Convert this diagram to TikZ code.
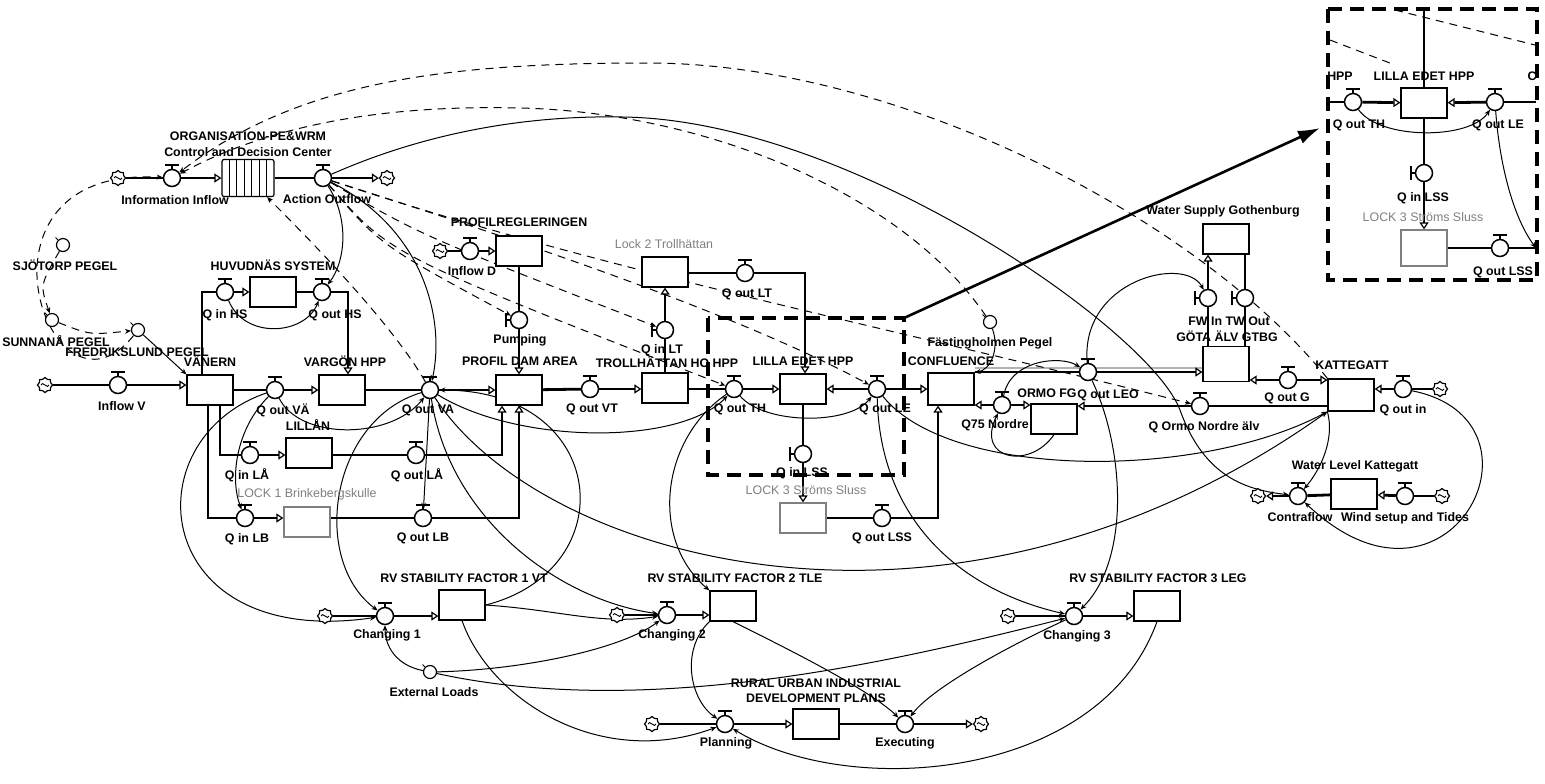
\documentclass[tikz,border=0pt]{standalone}
\usepackage{fontspec}
\setmainfont{Liberation Sans}
\usetikzlibrary{arrows.meta,shapes.symbols,backgrounds}
\begin{document}
\begin{tikzpicture}[x=0.5pt,y=-0.5pt,
  every node/.style={font=\fontsize{6.2pt}{6.5pt}\selectfont\bfseries},
  stock/.style={draw,line width=0.6pt,fill=white,minimum width=23pt,minimum height=15pt,inner sep=0pt},
  lock/.style={stock,draw=gray},
  valve/.style={circle,draw,line width=0.75pt,fill=white,minimum size=8.5pt,inner sep=0pt},
  aux/.style={circle,draw,line width=0.6pt,fill=white,minimum size=6.5pt,inner sep=0pt},
  src/.style={cloud,cloud puffs=8,draw,line width=0.6pt,fill=white,minimum width=7.5pt,minimum height=7.5pt,inner sep=0pt,
    path picture={\draw[line width=0.45pt] ([xshift=-2pt]path picture bounding box.center) .. controls +(0.5pt,2.5pt) and +(-0.5pt,-2.5pt) .. ([xshift=2pt]path picture bounding box.center);}},
  lbl/.style={inner sep=0.5pt},
  glbl/.style={lbl,text=gray,font=\fontsize{6.2pt}{6.5pt}\selectfont},
  pipe/.style={line width=1.4pt},
  flow/.style={pipe,-{Triangle[open,length=3.5pt,width=4.5pt,line width=0.6pt]}},
  link/.style={line width=0.5pt,-{Stealth[length=3pt,width=2.5pt]}},
  dlink/.style={link,dash pattern=on 4pt off 3pt},
  region/.style={line width=1.6pt,dash pattern=on 7pt off 4pt}]
\useasboundingbox (0,0) rectangle (1545,783);

% sources and sinks
\node[src] (cInfo) at (118,178) {};
\node[src] (cAct) at (387,178) {};
\node[src] (cInV) at (45,385) {};
\node[src] (cInD) at (440,251) {};
\node[src] (cIn) at (1440,389) {};
\node[src] (cCon) at (1258,496) {};
\node[src] (cWind) at (1442,496) {};
\node[src] (cCh1) at (325,616) {};
\node[src] (cCh2) at (617,615) {};
\node[src] (cCh3) at (1008,616) {};
\node[src] (cPlan) at (652,724) {};
\node[src] (cExec) at (981,724) {};

% stocks
\node[stock,minimum width=26pt,minimum height=18.5pt,rounded corners=1pt,
  path picture={\foreach \i in {1,...,6}
    \draw[line width=0.5pt] ([xshift=\i*3.7pt]path picture bounding box.south west) -- ([xshift=\i*3.7pt]path picture bounding box.north west);}] (sOrg) at (248,178) {};
\node[stock] (sVan) at (210,390) {};
\node[stock] (sVar) at (342,390) {};
\node[stock] (sProf) at (519,390) {};
\node[stock] (sTro) at (665,388) {};
\node[stock] (sLil) at (803,389) {};
\node[stock,minimum height=16pt] (sConf) at (951,389) {};
\node[stock] (sHuv) at (273,292) {};
\node[stock] (sLaa) at (309,453) {};
\node[lock] (sLock1) at (307,522) {};
\node[stock] (sPreg) at (519,251) {};
\node[stock] (sLock2) at (665,272) {};
\node[lock] (sLock3) at (803,518) {};
\node[stock] (sOrmo) at (1054,419) {};
\node[stock,minimum height=17.5pt] (sGota) at (1226,364) {};
\node[stock] (sWat) at (1226,239) {};
\node[stock,minimum height=16pt] (sKat) at (1351,395) {};
\node[stock] (sWL) at (1354,494) {};
\node[stock] (sRv1) at (462,605) {};
\node[stock] (sRv2) at (733,606) {};
\node[stock] (sRv3) at (1157,606) {};
\node[stock] (sRur) at (816,724) {};
\node[stock] (iLil) at (1424,103) {};
\node[lock,minimum height=18pt] (iLock3) at (1424,248) {};

% valves
\node[valve] (vInfo) at (172,178) {};
\node[valve] (vAct) at (323,178) {};
\node[valve] (vInV) at (118,385) {};
\node[valve] (vOutVAE) at (275,390) {};
\node[valve] (vOutVA) at (430,390) {};
\node[valve] (vOutVT) at (590,389) {};
\node[valve] (vOutTH) at (734,389) {};
\node[valve] (vOutLE) at (877,389) {};
\node[valve] (vInHS) at (225,292) {};
\node[valve] (vOutHS) at (322,292) {};
\node[valve] (vInLAA) at (250,455) {};
\node[valve] (vOutLAA) at (416,455) {};
\node[valve] (vInLB) at (245,518) {};
\node[valve] (vOutLB) at (423,518) {};
\node[valve] (vInD) at (470,251) {};
\node[valve] (vPump) at (519,320) {};
\node[valve] (vOutLT) at (745,273) {};
\node[valve] (vInLT) at (665,330) {};
\node[valve] (vInLSS) at (803,454) {};
\node[valve] (vOutLSS) at (882,518) {};
\node[valve] (vOutLEO) at (1088,372) {};
\node[valve] (vQ75) at (1002,405) {};
\node[valve] (vOrmo) at (1200,406) {};
\node[valve] (vOutG) at (1288,380) {};
\node[valve] (vOutIn) at (1403,389) {};
\node[valve] (vFW) at (1208,298) {};
\node[valve] (vTW) at (1245,298) {};
\node[valve] (vContra) at (1298,496) {};
\node[valve] (vWind) at (1405,496) {};
\node[valve] (vCh1) at (385,616) {};
\node[valve] (vCh2) at (667,615) {};
\node[valve] (vCh3) at (1074,616) {};
\node[valve] (vPlan) at (725,724) {};
\node[valve] (vExec) at (905,724) {};
\node[valve] (iOutTH) at (1353,102) {};
\node[valve] (iOutLE) at (1495,102) {};
\node[valve] (iInLSS) at (1424,173) {};
\node[valve] (iOutLSS) at (1500,248) {};

% auxiliaries
\node[aux] (aSjo) at (63,245) {};
\node[aux] (aSun) at (52,320) {};
\node[aux] (aFred) at (138,330) {};
\node[aux] (aFast) at (990,322) {};
\node[aux] (aExt) at (430,672) {};

\coordinate (boxNE) at (904,318);
\coordinate (insetW) at (1320,128);
\coordinate (iW) at (1329,102);
\coordinate (iE) at (1536,102);
\coordinate (iSE) at (1536,248);
\coordinate (iTop) at (1424,10);

\foreach \v in {vInfo,vAct,vInV,vOutVAE,vOutVA,vOutVT,vOutTH,vOutLE,vInHS,vOutHS,vInLAA,vOutLAA,
  vInLB,vOutLB,vInD,vOutLT,vOutLSS,vOutLEO,vQ75,vOrmo,vOutG,vOutIn,vContra,vWind,
  vCh1,vCh2,vCh3,vPlan,vExec,iOutTH,iOutLE,iOutLSS}
  \draw[line width=0.8pt] (\v.north) -- ++(0pt,2pt) ++(-3.5pt,0pt) -- ++(7pt,0pt);
\foreach \v in {vPump,vInLT,vInLSS,vFW,vTW,iInLSS}
  \draw[line width=0.8pt] (\v.west) -- ++(-2pt,0pt) ++(0pt,-3.5pt) -- ++(0pt,7pt);
\foreach \a in {aSjo,aSun,aFred,aFast,aExt}
  \draw[line width=0.5pt] (\a.north west) -- ++(-1.2pt,1.2pt);

% labels
\node[lbl] (tOrg1) at (248,136) {ORGANISATION-PE\&WRM};
\node[lbl] (tOrg2) at (248,152) {Control and Decision Center};
\node[lbl] (tInfo) at (175,200) {Information Inflow};
\node[lbl] (tAct) at (327,199) {Action Outflow};
\node[lbl] (tSjo) at (65,265) {SJÖTORP PEGEL};
\node[lbl] (tSun) at (56,341) {SUNNANÅ PEGEL};
\node[lbl] (tFred) at (137,352) {FREDRIKSLUND PEGEL};
\node[lbl] (tHuv) at (273,265) {HUVUDNÄS SYSTEM};
\node[lbl] (tInHS) at (225,315) {Q in HS};
\node[lbl] (tOutHS) at (335,315) {Q out HS};
\node[lbl] (tVan) at (210,361) {VÄNERN};
\node[lbl] (tInV) at (122,406) {Inflow V};
\node[lbl] (tOutVAE) at (283,410) {Q out VÄ};
\node[lbl] (tVar) at (345,361) {VARGÖN HPP};
\node[lbl] (tOutVA) at (428,410) {Q out VA};
\node[lbl] (tPreg) at (519,222) {PROFILREGLERINGEN};
\node[lbl] (tInD) at (472,271) {Inflow D};
\node[lbl] (tPump) at (520,340) {Pumping};
\node[lbl] (tProf) at (520,361) {PROFIL DAM AREA};
\node[lbl] (tOutVT) at (592,409) {Q out VT};
\node[glbl] (tLock2) at (664,244) {Lock 2 Trollhättan};
\node[lbl] (tOutLT) at (747,294) {Q out LT};
\node[lbl] (tInLT) at (662,350) {Q in LT};
\node[lbl] (tTro) at (667,362) {TROLLHÄTTAN HO HPP};
\node[lbl] (tLil) at (803,361) {LILLA EDET HPP};
\node[lbl] (tOutTH) at (740,409) {Q out TH};
\node[lbl] (tOutLE) at (885,409) {Q out LE};
\node[lbl] (tConf) at (951,361) {CONFLUENCE};
\node[lbl] (tFast) at (990,343) {Fästingholmen Pegel};
\node[lbl] (tOrmo) at (1047,393) {ORMO FG};
\node[lbl] (tOutLEO) at (1108,395) {Q out LEO};
\node[lbl] (tQ75) at (995,425) {Q75 Nordre};
\node[lbl] (tOrmoN) at (1204,427) {Q Ormo Nordre älv};
\node[lbl] (tInLSS) at (802,473) {Q in LSS};
\node[glbl] (tLock3) at (806,490) {LOCK 3 Ströms Sluss};
\node[lbl] (tOutLSS) at (882,538) {Q out LSS};
\node[lbl] (tLaa) at (308,425) {LILLÅN};
\node[lbl] (tInLAA) at (247,475) {Q in LÅ};
\node[lbl] (tOutLAA) at (417,475) {Q out LÅ};
\node[glbl] (tLock1) at (307,494) {LOCK 1 Brinkebergskulle};
\node[lbl] (tInLB) at (247,539) {Q in LB};
\node[lbl] (tOutLB) at (423,538) {Q out LB};
\node[lbl] (tWat) at (1223,211) {Water Supply Gothenburg};
\node[lbl] (tFWTW) at (1229,321) {FW In TW Out};
\node[lbl] (tGota) at (1227,336) {GÖTA ÄLV GTBG};
\node[lbl] (tKat) at (1352,365) {KATTEGATT};
\node[lbl] (tOutG) at (1287,398) {Q out G};
\node[lbl] (tOutIn) at (1403,410) {Q out in};
\node[lbl] (tWL) at (1355,466) {Water Level Kattegatt};
\node[lbl] (tCon) at (1300,517) {Contraflow};
\node[lbl] (tWind) at (1405,518) {Wind setup and Tides};
\node[lbl] (tRv1) at (464,578) {RV STABILITY FACTOR 1 VT};
\node[lbl] (tCh1) at (387,635) {Changing 1};
\node[lbl] (tExt) at (434,692) {External Loads};
\node[lbl] (tRv2) at (735,578) {RV STABILITY FACTOR 2 TLE};
\node[lbl] (tCh2) at (672,635) {Changing 2};
\node[lbl] (tRv3) at (1158,578) {RV STABILITY FACTOR 3 LEG};
\node[lbl] (tCh3) at (1077,636) {Changing 3};
\node[lbl] (tRur1) at (816,683) {RURAL URBAN INDUSTRIAL};
\node[lbl] (tRur2) at (816,698) {DEVELOPMENT PLANS};
\node[lbl] (tPlan) at (726,743) {Planning};
\node[lbl] (tExec) at (905,743) {Executing};
\node[lbl] (tiHPP) at (1340,76) {HPP};
\node[lbl] (tiLil) at (1424,76) {LILLA EDET HPP};
\node[lbl] (tiC) at (1532,76) {C};
\node[lbl] (tiOutTH) at (1359,125) {Q out TH};
\node[lbl] (tiOutLE) at (1498,125) {Q out LE};
\node[lbl] (tiInLSS) at (1423,198) {Q in LSS};
\node[glbl] (tiLock3) at (1423,217) {LOCK 3 Ströms Sluss};
\node[lbl] (tiOutLSS) at (1503,272) {Q out LSS};

\begin{scope}[on background layer]
\fill[white] (0,0) rectangle (1545,783);
% pipes
\draw[pipe] (cInfo) -- (vInfo);
\draw[flow] (vInfo) -- (sOrg);
\draw[pipe] (sOrg) -- (vAct);
\draw[flow] (vAct) -- (cAct);
\draw[pipe] (cInV) -- (vInV);
\draw[flow] (vInV) -- (sVan.west |- vInV);
\draw[pipe] (sVan) -- (vOutVAE);
\draw[flow] (vOutVAE) -- (sVar);
\draw[pipe] (sVar) -- (vOutVA);
\draw[flow] (vOutVA) -- (sProf);
\draw[pipe] (sProf) -- (vOutVT);
\draw[flow] (vOutVT) -- (sTro.west |- vOutVT);
\draw[pipe] (sTro.east |- vOutTH) -- (vOutTH);
\draw[flow] (vOutTH) -- (sLil);
\draw[flow] (vOutLE) -- (sLil);
\draw[flow] (vOutLE) -- (sConf);
\draw[pipe] ([xshift=-4pt]sVan.north) |- (vInHS);
\draw[flow] (vInHS) -- (sHuv);
\draw[pipe] (sHuv) -- (vOutHS);
\draw[flow] (vOutHS) -| ([xshift=3pt]sVar.north);
\draw[pipe] ([xshift=5pt]sVan.south) |- (vInLAA);
\draw[flow] (vInLAA) -- (sLaa.west |- vInLAA);
\draw[pipe] (sLaa.east |- vOutLAA) -- (vOutLAA);
\draw[flow] (vOutLAA) -| ([xshift=-8.5pt]sProf.south);
\draw[pipe] ([xshift=-1pt]sVan.south) |- (vInLB);
\draw[flow] (vInLB) -- (sLock1.west |- vInLB);
\draw[pipe] (sLock1.east |- vOutLB) -- (vOutLB);
\draw[flow] (vOutLB) -| (sProf.south);
\draw[pipe] (cInD) -- (vInD);
\draw[flow] (vInD) -- (sPreg);
\draw[pipe] (sPreg) -- (vPump);
\draw[flow] (vPump) -- (sProf);
\draw[pipe] (sTro) -- (vInLT);
\draw[flow] (vInLT) -- (sLock2);
\draw[pipe] (sLock2.east |- vOutLT) -- (vOutLT);
\draw[flow] (vOutLT) -| ([xshift=1pt]sLil.north);
\draw[pipe] (sLil) -- (vInLSS);
\draw[flow] (vInLSS) -- (sLock3);
\draw[pipe] (sLock3) -- (vOutLSS);
\draw[flow] (vOutLSS) -| ([xshift=-6.5pt]sConf.south);
\draw[gray!60,line width=1pt] ([yshift=2pt]sConf.east |- vOutLEO) -- ([yshift=2pt]sGota.west |- vOutLEO);
\draw[pipe] (sConf.east |- vOutLEO) -- (vOutLEO);
\draw[flow] (vOutLEO) -- (sGota.west |- vOutLEO);
\draw[flow] (vQ75) -- (sConf.east |- vQ75);
\draw[flow] (vQ75) -- (sOrmo.west |- vQ75);
\draw[pipe] (sKat.west |- vOrmo) -- (vOrmo);
\draw[flow] (vOrmo) -- (sOrmo.east |- vOrmo);
\draw[flow] (vOutG) -- (sGota.east |- vOutG);
\draw[flow] (vOutG) -- (sKat.west |- vOutG);
\draw[pipe] (cIn) -- (vOutIn);
\draw[flow] (vOutIn) -- (sKat.east |- vOutIn);
\draw[pipe] (sGota.north -| vFW) -- (vFW);
\draw[flow] (vFW) -- (sWat.south -| vFW);
\draw[pipe] (sWat.south -| vTW) -- (vTW) -- (sGota.north -| vTW);
\draw[pipe] (sWL) -- (vContra);
\draw[flow] (vContra) -- (cCon);
\draw[pipe] (cWind) -- (vWind);
\draw[flow] (vWind) -- (sWL);
\foreach \c/\v/\s in {cCh1/vCh1/sRv1,cCh2/vCh2/sRv2,cCh3/vCh3/sRv3,cPlan/vPlan/sRur}{
  \draw[pipe] (\c) -- (\v);
  \draw[flow] (\v) -- (\s.west |- \v);}
\draw[pipe] (sRur) -- (vExec);
\draw[flow] (vExec) -- (cExec);
\draw[pipe] (iW) -- (iOutTH);
\draw[flow] (iOutTH) -- (iLil);
\draw[flow] (iOutLE) -- (iLil);
\draw[pipe] (iOutLE) -- (iE);
\draw[pipe] (iTop) -- (iLil);
\draw[pipe] (iLil) -- (iInLSS);
\draw[flow] (iInLSS) -- (iLock3);
\draw[pipe] (iLock3) -- (iOutLSS) -- (iSE);

% regions
\draw[region] (708,318) rectangle (904,475);
\draw[region] (1328,9) rectangle (1537,280);
\draw[line width=1.3pt,-{Latex[length=11pt,width=7pt]}] (boxNE) -- (insetW);
\draw[line width=0.5pt,dash pattern=on 4pt off 3pt] (1330,40) -- (1395,65);
\draw[line width=0.5pt,dash pattern=on 4pt off 3pt] (1395,10) -- (1535,45);

% dashed information links
\draw[dlink] (aFred) .. controls (50,440) and (-45,165) .. (vInfo);
\draw[dlink] (aSjo) .. controls (40,285) .. (aSun);
\draw[dlink] (aSun) .. controls (90,335) .. (aFred);
\draw[dlink] (vOutVA) .. controls (390,320) and (300,230) .. (sOrg);
\draw[dlink] (sKat.north west) .. controls (1200,220) and (900,63) .. (648,63) .. controls (450,63) and (300,80) .. (vInfo);
\draw[dlink] (aFast) .. controls (900,190) and (700,112) .. (520,108) .. controls (400,105) and (280,120) .. (vInfo);
\foreach \to/\cx/\cy in {vPump/380/245,vInLT/420/235,vOutTH/390/255}
  \draw[dlink] (vAct) .. controls (\cx,\cy) .. (\to);
\draw[dlink] (vAct) .. controls (550,250) and (750,320) .. (vOutLE);
\draw[dlink] (vAct) .. controls (600,270) and (900,330) .. (vOrmo);

% information links
\draw[link] (vAct) .. controls (420,135) and (520,115) .. (623,117) .. controls (850,120) and (1150,330) .. (1180,410) .. controls (1205,480) and (1250,490) .. (vContra);
\draw[link] (vOutLEO) .. controls (1080,280) and (1185,255) .. (vFW);
\draw[link] (vAct) .. controls (425,230) and (445,320) .. (vOutVA);
\draw[link] (vAct) .. controls (350,220) and (345,262) .. (vOutHS);
\draw[link] (vInHS) .. controls (245,340) and (305,335) .. (vOutHS);
\draw[link] (aFred) -- (sVan.north west);
\draw[link] (vOutVAE) .. controls (300,440) and (390,440) .. (vOutVA);
\draw[link] (vOutVA) .. controls (520,445) and (680,445) .. (vOutTH);
\draw[link] (vOutTH) .. controls (765,425) and (850,425) .. (vOutLE);
\draw[link] (vOutLE) .. controls (950,480) and (1200,480) .. (sKat.south west);
\draw[link] (vOutVA) .. controls (540,560) and (950,680) .. (sKat.south west);
\draw[link] (vOutVA) .. controls (330,420) and (310,560) .. (vCh1);
\draw[link] (sRv1.east) .. controls (625,570) and (610,390) .. (vOutVA);
\draw[link] (vOutVAE) .. controls (130,440) and (150,650) .. (vCh1);
\draw[link] (vOutVAE) .. controls (235,430) and (230,480) .. (vInLB);
\draw[link] (vOutVA) .. controls (450,520) and (560,600) .. (vCh2);
\draw[link] (vOutVA) -- (vOutLB);
\draw[link] (vOutTH) .. controls (660,440) and (650,540) .. (sRv2.north west);
\draw[link] (vOutLE) .. controls (880,520) and (960,590) .. (vCh3);
\draw[link] (vOutLEO) .. controls (1125,450) and (1130,560) .. (vCh3);
\draw[link] (vQ75) .. controls (1010,360) and (1060,355) .. (vOutLEO);
\draw[link] (sOrmo.south) .. controls (1030,470) and (975,460) .. (vQ75);
\draw[link] (aFast) .. controls (1000,350) and (990,370) .. (sConf.north east);
\draw[link] (sKat.south west) .. controls (1335,440) and (1320,470) .. (vContra);
\draw[link] (vOutIn) .. controls (1560,420) and (1450,640) .. (vContra);
\draw[link] (aExt) .. controls (395,665) and (385,645) .. (vCh1);
\draw[link] (aExt) .. controls (520,670) and (620,650) .. (vCh2);
\draw[link] (aExt) .. controls (650,720) and (900,660) .. (vCh3);
\draw[link] (sRv1.east) .. controls (560,610) and (600,625) .. (vCh2);
\draw[link] (sRv1.south) .. controls (490,700) and (600,770) .. (vPlan);
\draw[link] (sRv2.south west) .. controls (680,650) and (690,700) .. (vPlan);
\draw[link] (sRv2.south) .. controls (790,650) and (870,690) .. (vExec);
\draw[link] (vCh3) .. controls (1000,650) and (930,690) .. (vExec);
\draw[link] (sRv3.south) .. controls (1100,780) and (850,800) .. (vPlan);
\draw[link] (iOutTH) .. controls (1380,140) and (1470,140) .. (iOutLE);
\draw[link] (iOutLE) .. controls (1500,170) and (1515,220) .. (iSE);
\end{scope}
\end{tikzpicture}
\end{document}
